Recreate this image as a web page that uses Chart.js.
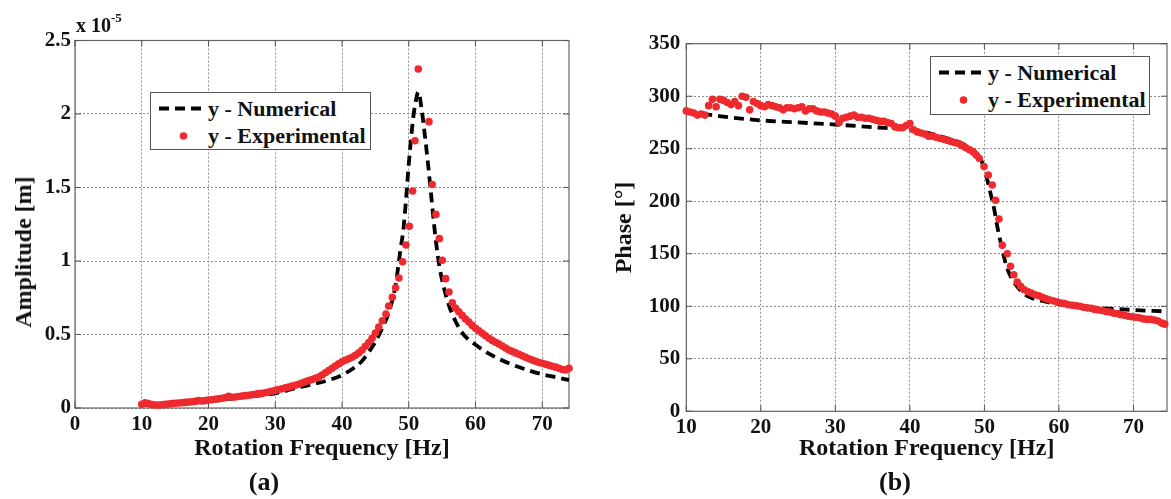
<!DOCTYPE html>
<html><head><meta charset="utf-8">
<script src="https://cdn.jsdelivr.net/npm/chart.js@4.4.1/dist/chart.umd.min.js"></script>
<style>
html,body{margin:0;padding:0;background:#fff;width:1171px;height:499px;overflow:hidden;position:relative;font-family:"Liberation Serif","Times New Roman",serif;font-weight:bold;color:#111;}
canvas{position:absolute;top:0}
#ca{left:0}
#cb{left:585px}
.t{position:absolute;white-space:nowrap;font-weight:bold;line-height:1;}
.lg{position:absolute;box-sizing:border-box;border:1px solid #555;background:#fff;}
.lg svg{position:absolute;left:0;top:0}
.lg span{position:absolute;font-size:22px;line-height:24px;white-space:nowrap;}
</style></head>
<body>
<canvas id="ca" width="585" height="499"></canvas>
<canvas id="cb" width="586" height="499"></canvas>

<div class="t" style="left:76px;top:15px;font-size:20px;">x 10<span style="font-size:13px;position:relative;top:-10px;">-5</span></div>
<div class="t" style="left:22.5px;top:252px;font-size:24px;transform:translate(-50%,-50%) rotate(-90deg);">Amplitude [m]</div>
<div class="t" style="left:264px;top:481.5px;font-size:26px;transform:translate(-50%,-50%);">(a)</div>
<div class="t" style="left:895px;top:481.5px;font-size:26px;transform:translate(-50%,-50%);">(b)</div>

<div class="lg" id="lga" style="left:150px;top:92px;width:221px;height:58px;"></div>
<div class="lg" id="lgb" style="left:930px;top:56px;width:220px;height:59px;"></div>

<script>
// ---------- data ----------
const ampXTicks = [0,10,20,30,40,50,60,70];
const ampYTicks = [0,0.5,1,1.5,2,2.5];
const ampYTickLabels = ['0','0.5','1','1.5','2','2.5'];
const phXTicks = [10,20,30,40,50,60,70];
const phYTicks = [0,50,100,150,200,250,300,350];

const seriesNames = ['y - Numerical','y - Experimental'];

// Amplitude (x 10^-5 m)
const ampNumFreq = [10,15,20,25,30,33,35,38,40,42,43,44,45,46,47,48,48.79,49.18,49.58,49.93,50.18,50.68,51.1,51.42,51.93,52.43,52.93,53.42,53.77,54.17,54.6,55.2,56,57,58.2,60,62,65,68,70,72,74];
const ampNumVal  = [0.02,0.033,0.05,0.072,0.1,0.135,0.155,0.19,0.224,0.28,0.32,0.38,0.45,0.54,0.65,0.83,1.09,1.21,1.415,1.62,1.755,1.98,2.1,2.15,2.03,1.846,1.64,1.415,1.256,1.097,0.96,0.83,0.7,0.59,0.5,0.43,0.37,0.304,0.255,0.229,0.21,0.19];

const ampExpFreq = [10,10.5,11,11.5,12,12.5,13,13.5,14,14.5,15,15.5,16,16.5,17,17.5,18,18.5,19,19.5,20,20.5,21,21.5,22,22.5,23,23.5,24,24.5,25,25.5,26,26.5,27,27.5,28,28.5,29,29.5,30,30.5,31,31.5,32,32.5,33,33.5,34,34.5,35,35.5,36,36.5,37,37.5,38,38.5,39,39.5,40,40.5,41,41.5,42,42.5,43,43.5,44,44.5,45,45.5,46.03,46.58,46.99,47.53,48.03,48.53,49.08,49.58,50.08,50.58,50.93,51.42,53.02,53.52,54.07,54.57,55.02,55.52,56.02,56.52,57,57.5,58,58.5,59,59.5,60,60.5,61,61.5,62,62.5,63,63.5,64,64.5,65,65.5,66,66.5,67,67.5,68,68.5,69,69.5,70,70.5,71,71.5,72,72.5,73,73.5,74];
const ampExpVal  = [0.025,0.035,0.03,0.024,0.02,0.02,0.022,0.025,0.027,0.03,0.032,0.034,0.036,0.038,0.04,0.042,0.045,0.05,0.048,0.05,0.054,0.056,0.06,0.062,0.066,0.07,0.08,0.073,0.075,0.078,0.082,0.084,0.087,0.09,0.094,0.099,0.1,0.104,0.108,0.114,0.12,0.126,0.131,0.137,0.142,0.149,0.155,0.162,0.17,0.178,0.186,0.194,0.202,0.21,0.225,0.24,0.255,0.27,0.285,0.3,0.315,0.325,0.335,0.345,0.358,0.375,0.395,0.42,0.445,0.475,0.51,0.55,0.594,0.639,0.694,0.753,0.818,0.884,0.995,1.109,1.236,1.476,1.818,2.306,1.948,1.52,1.317,1.152,1.005,0.88,0.789,0.716,0.68,0.655,0.63,0.605,0.585,0.562,0.542,0.525,0.508,0.492,0.475,0.46,0.447,0.435,0.422,0.408,0.395,0.385,0.375,0.365,0.355,0.345,0.335,0.326,0.318,0.31,0.304,0.297,0.29,0.284,0.278,0.27,0.262,0.258,0.27];

// Phase (deg)
const phNumFreq = [10,12.5,15,20,25,30,35,40,43,45,47,48,49,49.5,50,50.4,50.84,51.3,51.7,52.3,53.06,53.96,55,56,58.2,60,64,70,74.5];
const phNumVal  = [285,283,280.5,277,275,273,270.5,268,264,260,255,251,245,240,231,220,207,193,177,157,136,123,114,109,104.5,102,99,96.5,95];

const phExpFreq = [10,10.5,11,11.5,12,12.5,13,13.5,14,14.5,15,15.5,16,16.5,17,17.5,18,18.5,19,19.5,20,20.5,21,21.5,22,22.5,23,23.5,24,24.5,25,25.5,26,26.5,27,27.5,28,28.5,29,29.5,30,30.5,31,31.5,32,32.5,33,33.5,34,34.5,35,35.5,36,36.5,37,37.5,38,38.5,39,39.5,40,40.5,41,41.5,42,42.5,43,43.5,44,44.5,45,45.5,46,46.5,47,47.5,48,48.5,48.9,49.3,49.95,50.52,51.05,51.5,51.95,52.4,53.06,53.5,53.95,54.4,54.85,55.3,55.8,56.3,56.8,57.3,57.8,58.3,58.8,59.3,59.8,60.3,60.8,61.3,61.8,62.3,62.8,63.3,63.8,64.3,64.8,65.3,65.8,66.3,66.8,67.3,67.8,68.3,68.8,69.3,69.8,70.3,70.8,71.3,71.8,72.3,72.8,73.3,73.8,74.2];
const phExpVal  = [286,285,284,282,283,282,291,297,290,297,296,294,292,295,291,300,299,287,295,293,291,290,292,291,290,289,287,289,289,288,289,290,286,288,288,286,285,285,284,283,281,275,279,280,281,282,280,280,279,279,278,277,276,276,275,274,271,270,270,272,274,268,266,265,264,262,262,261,260,259,258,257,256,255,253,251,249,247,244,241,233,225,215.5,201,183,158,150,138,130,123,119,116,114,112.5,111,110,108.5,107,106,105,104,103,102.5,101.5,101,100.5,100,99,98.5,98,97,96.5,96,95,94.5,93.5,93,92,91.5,90.5,90,89.5,89,88,87.5,87.5,87,86,84,83];

// ---------- styles ----------
const RED = '#ee2a2e';
const FONT = 'Liberation Serif';
const pts = (xs, ys) => xs.map((x, i) => ({x, y: ys[i]}));

const boxPlugin = {
  id: 'box',
  beforeDatasetsDraw(chart) {
    const {ctx, chartArea: a, scales: {x, y}} = chart;
    ctx.save();
    ctx.strokeStyle = '#666';
    ctx.lineWidth = 1.2;
    ctx.strokeRect(a.left, a.top, a.right - a.left, a.bottom - a.top);
    ctx.strokeStyle = '#555';
    ctx.lineWidth = 1;
    const L = 6;
    ctx.beginPath();
    x.ticks.forEach(t => {
      const p = x.getPixelForValue(t.value);
      ctx.moveTo(p, a.bottom); ctx.lineTo(p, a.bottom - L);
      ctx.moveTo(p, a.top); ctx.lineTo(p, a.top + L);
    });
    y.ticks.forEach(t => {
      const p = y.getPixelForValue(t.value);
      ctx.moveTo(a.left, p); ctx.lineTo(a.left + L, p);
      ctx.moveTo(a.right, p); ctx.lineTo(a.right - L, p);
    });
    ctx.stroke();
    ctx.restore();
  }
};

function makeChart(id, o) {
  const tickFont = {family: FONT, size: 21, weight: 'bold'};
  return new Chart(document.getElementById(id), {
    type: 'scatter',
    data: {
      datasets: [
        {label: seriesNames[1], data: pts(o.expX, o.expY), pointRadius: 3.8, pointBackgroundColor: RED,
         pointBorderWidth: 0, borderColor: RED, showLine: false, clip: false, order: 0},
        {label: seriesNames[0], data: pts(o.numX, o.numY), showLine: true, pointRadius: 0,
         borderColor: '#000', borderWidth: 3.8, borderDash: [10, 6], cubicInterpolationMode: 'monotone',
         fill: false, order: 1}
      ]
    },
    options: {
      responsive: false, animation: false, events: [], devicePixelRatio: 1,
      layout: {padding: o.pad},
      plugins: {legend: {display: false}, tooltip: {enabled: false}, title: {display: false}},
      scales: {
        x: {
          type: 'linear', min: o.xMin, max: o.xMax,
          afterBuildTicks: s => { s.ticks = o.xTicks.map(v => ({value: v})); },
          afterFit: s => { s.height = o.xH; },
          grid: {color: '#8c8c8c', lineWidth: 1, drawTicks: false},
          border: {display: false, dash: [2, 2]},
          ticks: {font: tickFont, color: '#111', padding: o.xPad, maxRotation: 0, autoSkip: false,
                  callback: (v, i) => o.xLabels[i]},
          title: {display: true, text: 'Rotation Frequency [Hz]', color: '#111',
                  font: {family: FONT, size: 24, weight: 'bold'}, padding: {top: 0, bottom: 35.6}}
        },
        y: {
          type: 'linear', min: o.yMin, max: o.yMax,
          afterBuildTicks: s => { s.ticks = o.yTicks.map(v => ({value: v})); },
          afterFit: s => { s.width = o.yW; },
          grid: {color: '#8c8c8c', lineWidth: 1, drawTicks: false},
          border: {display: false, dash: [2, 2]},
          ticks: {font: tickFont, color: '#111', padding: o.yPad, autoSkip: false,
                  callback: (v, i) => o.yLabels[i]},
          title: o.yTitle
        }
      }
    },
    plugins: [boxPlugin]
  });
}

makeChart('ca', {
  expX: ampExpFreq, expY: ampExpVal, numX: ampNumFreq, numY: ampNumVal,
  xMin: 0, xMax: 74, yMin: 0, yMax: 2.5, xTicks: ampXTicks, yTicks: ampYTicks,
  xLabels: ampXTicks.map(String), yLabels: ampYTickLabels,
  pad: {left: 0, top: 40.5, right: 16, bottom: 0}, xH: 91, yW: 75, xPad: 4, yPad: 4,
  yTitle: {display: false}
});

makeChart('cb', {
  expX: phExpFreq, expY: phExpVal, numX: phNumFreq, numY: phNumVal,
  xMin: 10, xMax: 74.5, yMin: 0, yMax: 350, xTicks: phXTicks, yTicks: phYTicks,
  xLabels: phXTicks.map(String), yLabels: phYTicks.map(String),
  pad: {left: 0, top: 43.7, right: 1.7, bottom: 0}, xH: 87.7, yW: 101.3, xPad: 4, yPad: 6,
  yTitle: {display: true, text: 'Phase [°]', color: '#111',
           font: {family: FONT, size: 24, weight: 'bold'}, padding: {top: 25.6, bottom: 0}}
});

// ---------- HTML legends ----------
function legend(id, w) {
  const el = document.getElementById(id);
  el.innerHTML =
    '<svg width="' + w + '" height="58">' +
    '<line x1="8" y1="15.5" x2="55" y2="15.5" stroke="#000" stroke-width="3.8" stroke-dasharray="10 6"/>' +
    '<circle cx="32.5" cy="43" r="3.8" fill="' + RED + '"/></svg>' +
    '<span style="left:57px;top:3.5px;">' + seriesNames[0] + '</span>' +
    '<span style="left:57px;top:31px;">' + seriesNames[1] + '</span>';
}
legend('lga', 221);
legend('lgb', 220);
</script>
</body></html>
